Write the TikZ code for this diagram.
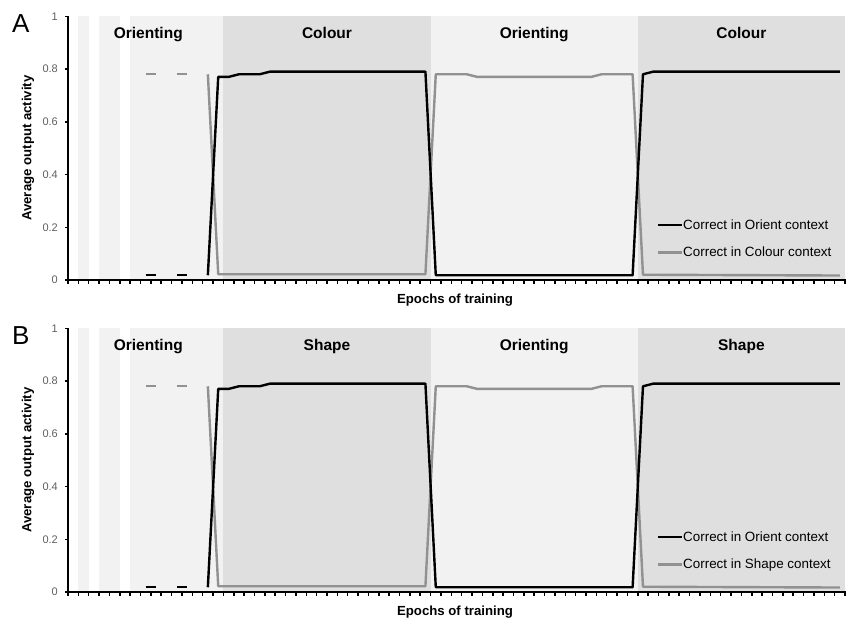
\documentclass[tikz,border=0pt]{standalone}
\usepackage{fontspec}
\setmainfont{Liberation Sans}
\definecolor{lightband}{RGB}{242,242,242}
\definecolor{darkband}{RGB}{223,223,223}
\definecolor{grayline}{RGB}{145,145,145}
\definecolor{ticklab}{RGB}{95,95,95}
\tikzset{
  hdr/.style={anchor=base,inner sep=0pt,font=\fontsize{15.5}{18}\selectfont\bfseries},
  axisline/.style={line width=2pt,black},
  tickline/.style={line width=1.5pt,black},
  blackdata/.style={line width=2.4pt,black,line join=round},
  graydata/.style={line width=2.4pt,grayline,line join=round},
  ticklabel/.style={anchor=east,inner sep=0pt,text=ticklab,font=\fontsize{11}{13}\selectfont},
  axlabel/.style={inner sep=0pt,font=\fontsize{13.2}{15}\selectfont\bfseries},
  legtext/.style={anchor=base west,inner sep=0pt,font=\fontsize{13.4}{16}\selectfont},
  panellabel/.style={anchor=base west,inner sep=0pt,font=\fontsize{26}{28}\selectfont}
}
\newcommand\drawpanel[3]{%
\begin{scope}[yshift=#1]
  \begin{scope}[shift={(68pt,-280pt)},x=10.36pt,y=263.75pt]
    % bands
    \fill[lightband] (1,0) rectangle (2,1);
    \fill[lightband] (3,0) rectangle (5,1);
    \fill[lightband] (6,0) rectangle (15,1);
    \fill[darkband] (15,0) rectangle (35,1);
    \fill[lightband] (35,0) rectangle (55,1);
    \fill[darkband] (55,0) rectangle (75,1);
    % headers
    \node[hdr] (hA#2) at (7.75,0.914) {Orienting};
    \node[hdr] (hB#2) at (25,0.914) {#3};
    \node[hdr] (hC#2) at (45,0.914) {Orienting};
    \node[hdr] (hD#2) at (65,0.914) {#3};
    % isolated dashes
    \draw[graydata] (7.5,0.78) -- (8.5,0.78);
    \draw[graydata] (10.5,0.78) -- (11.5,0.78);
    \draw[blackdata] (7.5,0.02) -- (8.5,0.02);
    \draw[blackdata] (10.5,0.02) -- (11.5,0.02);
    % gray series
    \draw[graydata] (13.5,0.78) -- (14.5,0.022) -- (34.5,0.022) -- (35.5,0.78)
      -- (38.5,0.78) -- (39.5,0.77) -- (50.5,0.77) -- (51.5,0.78) -- (54.5,0.78)
      -- (55.5,0.02) -- (74.5,0.017);
    % black series
    \draw[blackdata] (13.5,0.018) -- (14.5,0.77) -- (15.5,0.77) -- (16.5,0.78)
      -- (18.5,0.78) -- (19.5,0.79) -- (34.5,0.79) -- (35.5,0.018) -- (54.5,0.018)
      -- (55.5,0.78) -- (56.5,0.79) -- (74.5,0.79);
    % axes
    \foreach \i in {0,...,75} \draw[tickline] (\i,0) -- ++(0,-3.5pt);
    \foreach \v in {0,0.2,0.4,0.6,0.8,1} {
      \draw[tickline] (0,\v) -- ++(-3.5pt,0);
      \node[ticklabel] at ([xshift=-10pt]0,\v) {\v};
    }
    \draw[axisline] (0,1) -- (0,0) -- (75.1,0);
  \end{scope}
  \node[panellabel] (lab#2) at (12,-32) {#2};
  \node[axlabel,rotate=90] (yl#2) at (28,-148) {Average output activity};
  \node[axlabel,anchor=base] (xl#2) at (455,-303) {Epochs of training};
  % legend
  \coordinate (l1a#2) at (658,-225);
  \coordinate (l1b#2) at (682,-225);
  \coordinate (l2a#2) at (658,-252.3);
  \coordinate (l2b#2) at (682,-252.3);
  \draw[blackdata] (l1a#2) -- (l1b#2);
  \draw[graydata] (l2a#2) -- (l2b#2);
  \node[legtext] (t1#2) at (683,-229.6) {Correct in Orient context};
  \node[legtext] (t2#2) at (683,-256.8) {Correct in #3 context};
\end{scope}}
\begin{document}
\begin{tikzpicture}[x=1pt,y=1pt]
\useasboundingbox (0,0) rectangle (847,-619);
\fill[white] (0,0) rectangle (847,-619);
\drawpanel{0pt}{A}{Colour}
\drawpanel{-312pt}{B}{Shape}
\end{tikzpicture}
\end{document}
